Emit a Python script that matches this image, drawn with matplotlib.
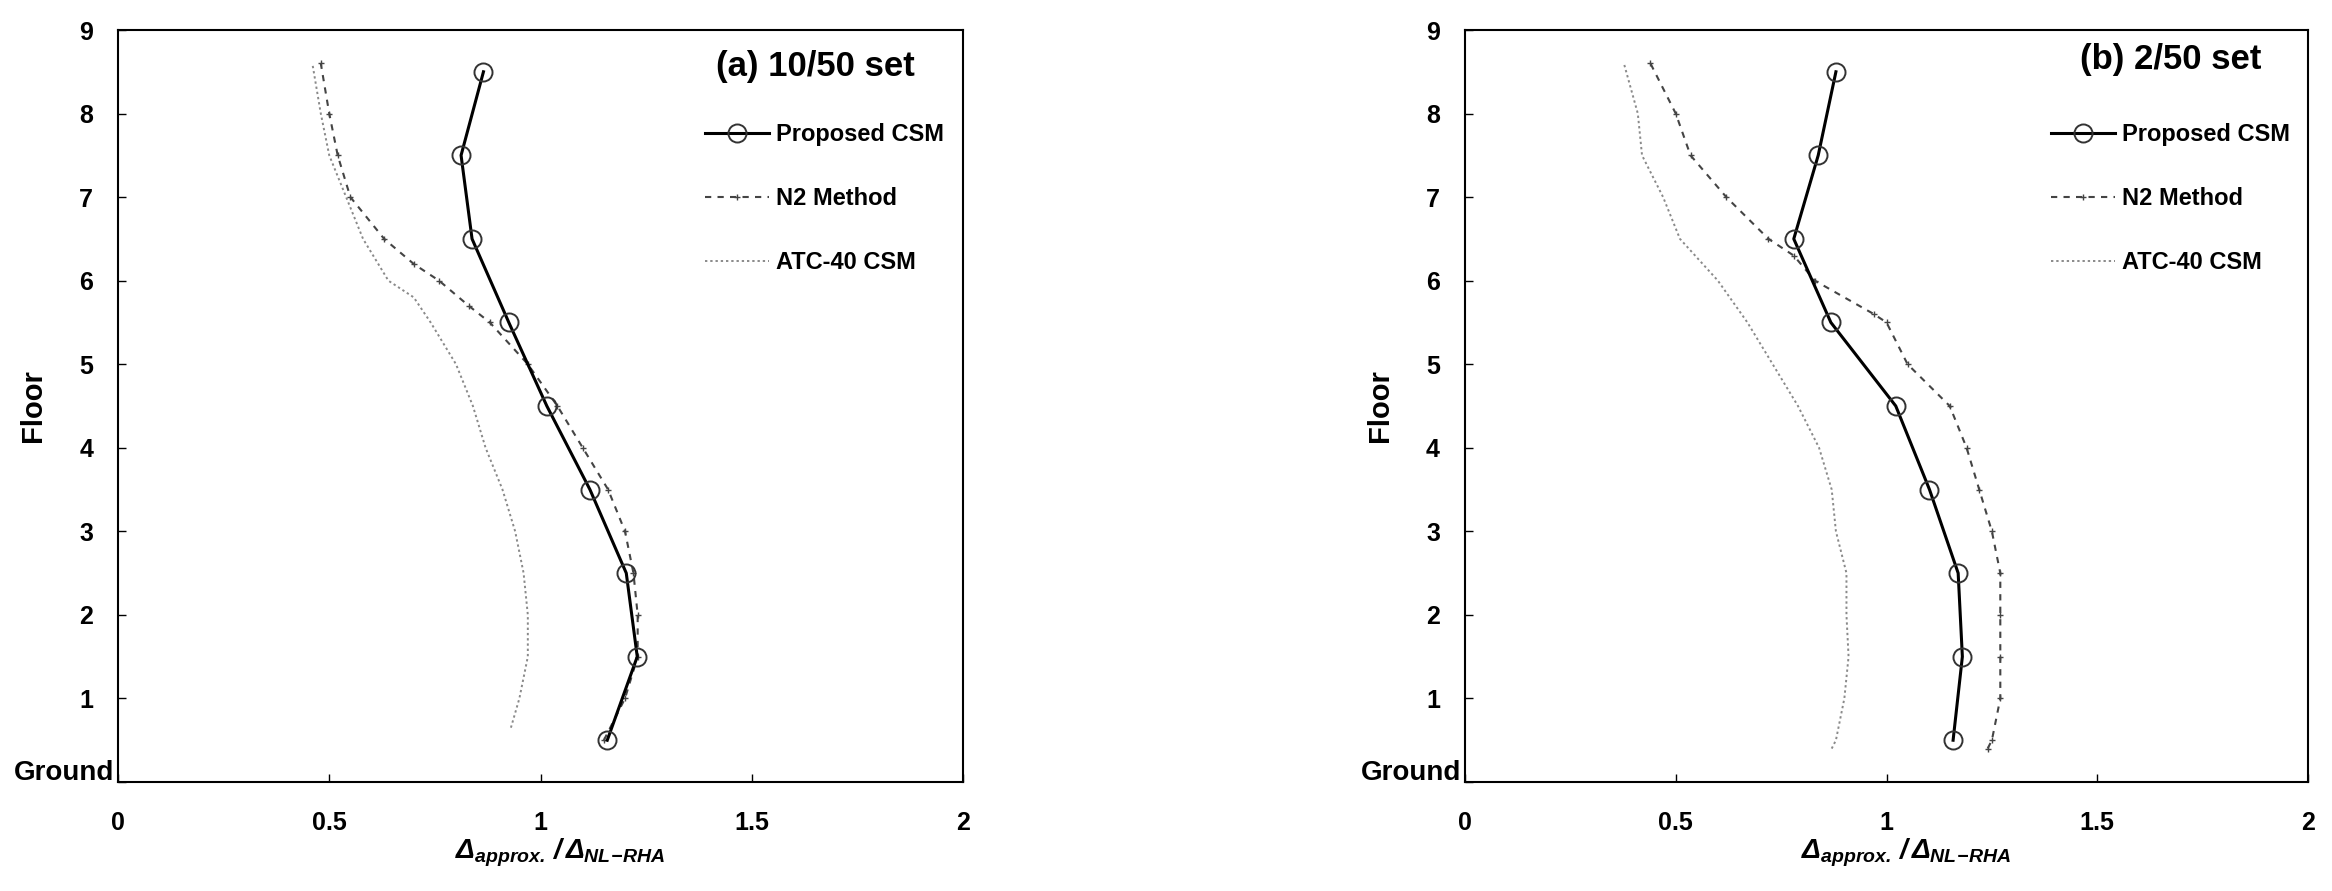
import matplotlib
matplotlib.use("Agg")
import matplotlib.pyplot as plt
from matplotlib.lines import Line2D

plt.rcParams['font.family'] = ['Liberation Sans', 'DejaVu Sans']
plt.rcParams['mathtext.fontset'] = 'custom'
plt.rcParams['mathtext.rm'] = 'Liberation Sans:italic:bold'
plt.rcParams['mathtext.it'] = 'Liberation Sans:italic:bold'
plt.rcParams['mathtext.bf'] = 'Liberation Sans:italic:bold'

# ---- data ----
floors_pts = [0.5, 1.5, 2.5, 3.5, 4.5, 5.5, 6.5, 7.5, 8.5]

# (a) 10/50 set
a_csm = [1.158, 1.229, 1.203, 1.117, 1.015, 0.925, 0.838, 0.812, 0.865]
a_n2_floor = [0.5, 1.0, 1.5, 2.0, 2.5, 3.0, 3.5, 4.0, 4.5, 5.0, 5.5, 5.7, 6.0, 6.2, 6.5, 7.0, 7.5, 8.0, 8.6]
a_n2 = [1.15, 1.20, 1.23, 1.23, 1.22, 1.20, 1.16, 1.10, 1.04, 0.97, 0.88, 0.83, 0.76, 0.70, 0.63, 0.55, 0.52, 0.50, 0.48]
a_atc_floor = [0.65, 1.0, 1.5, 2.0, 2.5, 3.0, 3.5, 4.0, 4.5, 5.0, 5.5, 5.8, 6.0, 6.5, 7.0, 7.5, 8.0, 8.6]
a_atc = [0.93, 0.95, 0.97, 0.97, 0.96, 0.94, 0.91, 0.87, 0.84, 0.80, 0.74, 0.70, 0.64, 0.58, 0.54, 0.50, 0.48, 0.46]

# (b) 2/50 set
b_csm = [1.158, 1.18, 1.17, 1.102, 1.022, 0.868, 0.78, 0.838, 0.88]
b_n2_floor = [0.4, 0.5, 1.0, 1.5, 2.0, 2.5, 3.0, 3.5, 4.0, 4.5, 5.0, 5.5, 5.6, 6.0, 6.3, 6.5, 7.0, 7.5, 8.0, 8.6]
b_n2 = [1.24, 1.25, 1.27, 1.27, 1.27, 1.27, 1.25, 1.22, 1.19, 1.15, 1.05, 1.00, 0.97, 0.83, 0.78, 0.72, 0.62, 0.535, 0.50, 0.44]
b_atc_floor = [0.4, 0.5, 1.0, 1.5, 2.0, 2.5, 3.0, 3.5, 4.0, 4.5, 5.0, 5.5, 6.0, 6.5, 7.0, 7.5, 8.0, 8.6]
b_atc = [0.87, 0.88, 0.90, 0.91, 0.905, 0.905, 0.88, 0.87, 0.84, 0.79, 0.73, 0.67, 0.60, 0.51, 0.47, 0.42, 0.41, 0.377]

yticks = list(range(10))
yticklabels = ['', '1', '2', '3', '4', '5', '6', '7', '8', '9']
ground_label = 'Ground'
xticks = [0, 0.5, 1, 1.5, 2]
xticklabels = ['0', '0.5', '1', '1.5', '2']
legend_labels = ['Proposed CSM', 'N2 Method', 'ATC-40 CSM']
panel_titles = ['(a) 10/50 set', '(b) 2/50 set']

fig = plt.figure(figsize=(23.32, 8.91), dpi=100)
axA = fig.add_axes([118/2332, 1-782/891, 845/2332, 752/891])
axB = fig.add_axes([1465/2332, 1-782/891, 843/2332, 752/891])

panels = [
    (axA, a_csm, a_n2_floor, a_n2, a_atc_floor, a_atc, panel_titles[0], 0.825, 0.951),
    (axB, b_csm, b_n2_floor, b_n2, b_atc_floor, b_atc, panel_titles[1], 0.837, 0.961),
]

ls_n2 = (0, (3, 3))
ls_atc = (0, (1.2, 1.5))

for ax, csm, n2f, n2, atcf, atc, title, tx, ty in panels:
    ax.plot(atc, atcf, color='#8a8a8a', linestyle=ls_atc, linewidth=1.4)
    ax.plot(n2, n2f, color='#444444', linestyle=ls_n2, linewidth=1.5,
            marker='+', markersize=5, markeredgewidth=1.0)
    ax.plot(csm, floors_pts, color='black', linewidth=2.2, marker='o', markersize=13,
            markerfacecolor='none', markeredgecolor='#333333', markeredgewidth=1.4)
    ax.set_xlim(0, 2)
    ax.set_ylim(0, 9)
    ax.set_xticks(xticks)
    ax.set_xticklabels(xticklabels)
    ax.set_yticks(yticks)
    ax.set_yticklabels(yticklabels)
    ax.tick_params(axis='both', direction='in', length=6, width=1, labelsize=18)
    ax.tick_params(axis='x', pad=21)
    ax.tick_params(axis='y', pad=18)
    for lbl in ax.get_xticklabels() + ax.get_yticklabels():
        lbl.set_fontweight('bold')
    for sp in ax.spines.values():
        sp.set_linewidth(1.5)
    ax.text(-0.004, 0.012, ground_label, transform=ax.transAxes, ha='right', va='center',
            fontsize=20, fontweight='bold')
    ax.set_ylabel('Floor', fontsize=21, fontweight='bold')
    ax.yaxis.label.set_verticalalignment('center')
    ax.yaxis.set_label_coords(-0.101, 0.50)
    ax.set_xlabel(r'$\Delta_{approx.}\,/\,\Delta_{NL\!-\!RHA}$', fontsize=20)
    ax.xaxis.label.set_verticalalignment('center')
    ax.xaxis.set_label_coords(0.523, -0.094)
    ax.text(tx, ty, title, transform=ax.transAxes, ha='center', va='center',
            fontsize=25, fontweight='bold')
    handles = [
        Line2D([], [], color='black', linewidth=2.2, marker='o', markersize=13,
               markerfacecolor='none', markeredgecolor='#333333', markeredgewidth=1.4),
        Line2D([], [], color='#444444', linestyle=ls_n2, linewidth=1.5,
               marker='+', markersize=5),
        Line2D([], [], color='#8a8a8a', linestyle=ls_atc, linewidth=1.4),
    ]
    ax.legend(handles, legend_labels, loc='upper left', bbox_to_anchor=(0.695, 0.876),
              frameon=False, borderpad=0, borderaxespad=0, handlelength=2.7,
              handletextpad=0.3, labelspacing=1.73,
              prop={'family': 'Liberation Sans', 'weight': 'bold', 'size': 17})

fig.savefig('out.png', dpi=100)
